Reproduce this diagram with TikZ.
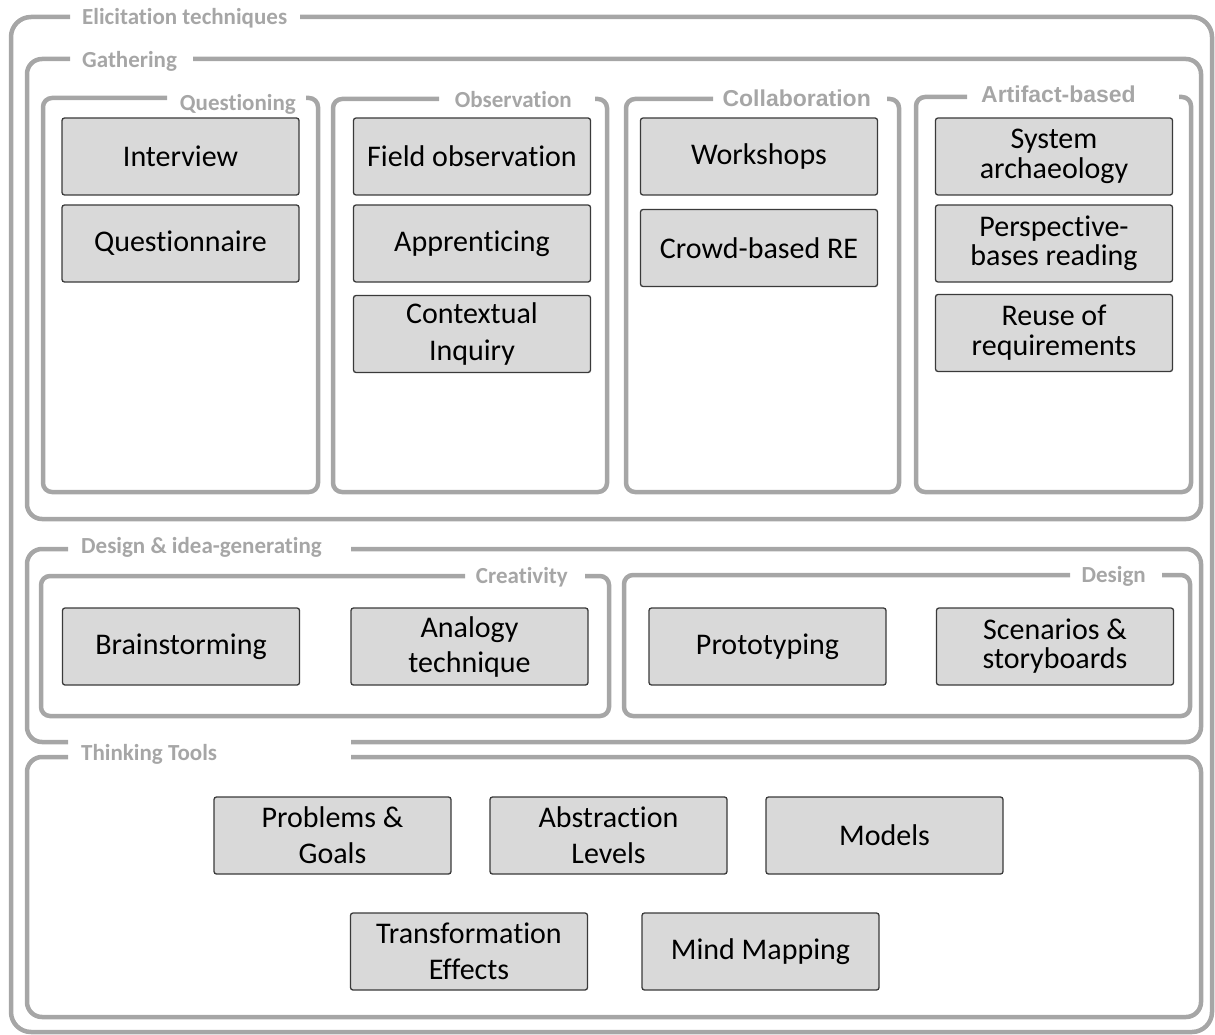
\documentclass[tikz,border=0pt]{standalone}
\usepackage{fontspec}
\setmainfont{Carlito}[RawFeature={-liga;-clig;-calt;-dlig}]
\newfontfamily\arialfont{Liberation Sans}
\newcommand\tti{t\kern0pt i}
\definecolor{grpc}{HTML}{A6A6A6}
\definecolor{nodefill}{HTML}{D9D9D9}
\definecolor{nodeborder}{HTML}{3A3A3A}
\begin{document}
\begin{tikzpicture}[x=1pt,y=-1pt,
  groupline/.style={draw=grpc,line width=4.5pt,rounded corners=#1},
  item/.style={draw=nodeborder,fill=nodefill,line width=1.3pt,rounded corners=2.5pt,
    minimum width=237pt,minimum height=77pt,inner sep=0pt,align=center,
    font=\fontsize{30}{36}\selectfont},
  lbl/.style={text=grpc,inner sep=0pt,font=\fontsize{23}{27}\selectfont\bfseries},
  albl/.style={text=grpc,inner sep=0pt,font=\fontsize{23}{27}\selectfont\arialfont\bfseries}]
\useasboundingbox (0,0) rectangle (1215,1035);

% Group frames
\draw[groupline=20] (300,17) -- (1212,17) -- (1212,1032) -- (11,1032) -- (11,17) -- (70,17);
\draw[groupline=15] (193,59) -- (1201,59) -- (1201,519) -- (27,519) -- (27,59) -- (70,59);
\draw[groupline=9] (306,98) -- (318,98) -- (318,492) -- (43,492) -- (43,98) -- (167,98);
\draw[groupline=9] (595,99) -- (607,99) -- (607,492) -- (333,492) -- (333,99) -- (439,99);
\draw[groupline=9] (887,99) -- (899,99) -- (899,492) -- (626,492) -- (626,99) -- (713,99);
\draw[groupline=9] (1179,97) -- (1191,97) -- (1191,492) -- (916,492) -- (916,97) -- (967,97);
\draw[groupline=15] (351,549) -- (1201,549) -- (1201,742) -- (351,742);
\draw[groupline=15] (68,742) -- (27,742) -- (27,549) -- (68,549);
\draw[groupline=9] (585,576) -- (609,576) -- (609,716) -- (41,716) -- (41,576) -- (465,576);
\draw[groupline=9] (1162,575) -- (1190,575) -- (1190,716) -- (624,716) -- (624,575) -- (1070,575);
\draw[groupline=15] (351,757) -- (1201,757) -- (1201,1017) -- (27,1017) -- (27,757) -- (68,757);

% Group labels
\node[lbl,anchor=base west] (lelic) at (82,25) {Elicita\tti on techniques};
\node[lbl,anchor=base west] (lgath) at (82,68) {Gathering};
\node[lbl,anchor=base east] (lques) at (296,111) {Ques\tti oning};
\node[lbl,anchor=base east] (lobs) at (572,108) {Observa\tti on};
\node[albl,anchor=base east] (lcoll) at (871,107) {Collaboration};
\node[albl,anchor=base east] (lart) at (1136,103) {Artifact-based};
\node[lbl,anchor=base west] (ldes) at (81,553) {Design \& idea-genera\tti ng};
\node[lbl,anchor=base east] (lcrea) at (568,583) {Crea\tti vity};
\node[lbl,anchor=base east] (ldsg) at (1146,582) {Design};
\node[lbl,anchor=base west] (lthink) at (81,760) {Thinking Tools};

% Items
\node[item] (interview) at (180.5,156.5) {Interview};
\node[item] (questionnaire) at (180.5,243.5) {Questionnaire};
\node[item] (field) at (472,156.5) {Field observa\tti on};
\node[item] (appr) at (472,243.5) {Appren\tti cing};
\node[item] (context) at (472,334) {Contextual\\Inquiry};
\node[item] (workshops) at (759,156.5) {Workshops};
\node[item] (crowd) at (759,248) {Crowd-based RE};
\node[item] (sysarch) at (1054,156.5) {System\\[-6pt]archaeology};
\node[item] (persp) at (1054,243.5) {Perspec\tti ve-\\[-7pt]bases reading};
\node[item] (reuse) at (1054,333) {Reuse of\\[-6pt]requirements};
\node[item] (brain) at (181,646.5) {Brainstorming};
\node[item] (analogy) at (469.5,646.5) {Analogy\\[-1pt]technique};
\node[item] (proto) at (767.5,646.5) {Prototyping};
\node[item] (scen) at (1055,646.5) {Scenarios \&\\[-7pt]storyboards};
\node[item] (probl) at (332.5,835.5) {Problems \&\\Goals};
\node[item] (abstr) at (608.5,835.5) {Abstrac\tti on\\Levels};
\node[item] (models) at (884.5,835.5) {Models};
\node[item] (transf) at (469,951.5) {Transforma\tti on\\Effects};
\node[item] (mind) at (760.5,951.5) {Mind Mapping};
\end{tikzpicture}
\end{document}
